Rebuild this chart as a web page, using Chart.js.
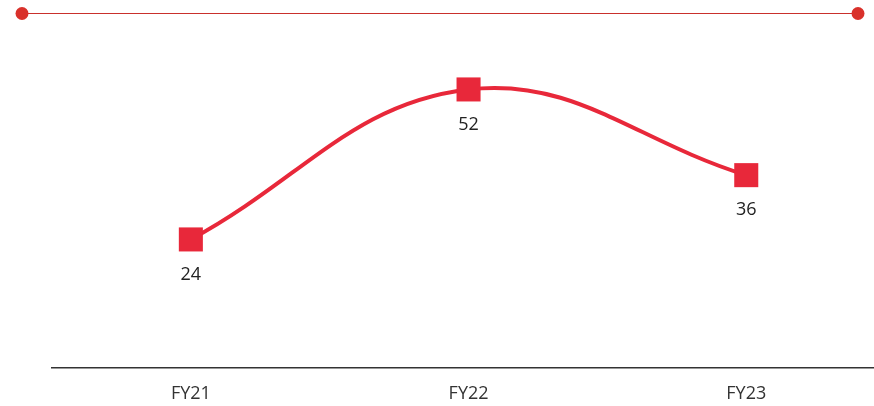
<!DOCTYPE html>
<html>
<head>
<meta charset="utf-8">
<script src="https://cdn.jsdelivr.net/npm/chart.js@4"></script>
<style>
  html, body { margin: 0; padding: 0; background: #fff; }
  #wrap { width: 874px; height: 406px; }
</style>
</head>
<body>
<div id="wrap"><canvas id="chart"></canvas></div>
<script>
const categories = ['FY21', 'FY22', 'FY23'];
const values = [24, 52, 36];

const red = '#e8283a';

// thin rule with round ends across the top
const topRule = {
    id: 'topRule',
    afterDraw(chart) {
        const ctx = chart.ctx;
        const y = chart.chartArea.top + 0.5;
        ctx.save();
        ctx.strokeStyle = '#c9302c';
        ctx.lineWidth = 1;
        ctx.beginPath();
        ctx.moveTo(22, y);
        ctx.lineTo(858, y);
        ctx.stroke();
        ctx.fillStyle = '#d9312b';
        [22, 858].forEach(x => {
            ctx.beginPath();
            ctx.arc(x, y, 6.5, 0, Math.PI * 2);
            ctx.fill();
        });
        ctx.restore();
    }
};

// value labels under each point
const valueLabels = {
    id: 'valueLabels',
    afterDatasetsDraw(chart) {
        const ctx = chart.ctx;
        const meta = chart.getDatasetMeta(0);
        ctx.save();
        ctx.font = '18px "Open Sans", sans-serif';
        ctx.fillStyle = '#222';
        ctx.textAlign = 'center';
        ctx.textBaseline = 'middle';
        meta.data.forEach((pt, i) => {
            ctx.fillText(String(values[i]), pt.x, pt.y + 35);
        });
        ctx.restore();
    }
};

new Chart(document.getElementById('chart'), {
    type: 'line',
    data: {
        datasets: [{
            data: values.map((v, i) => ({ x: i, y: v })),
            borderColor: red,
            borderWidth: 4,
            tension: 0.4,
            pointStyle: 'rect',
            pointRadius: 17,
            pointHoverRadius: 17,
            pointBackgroundColor: red,
            pointBorderWidth: 0
        }]
    },
    options: {
        responsive: true,
        maintainAspectRatio: false,
        animation: false,
        layout: { autoPadding: false, padding: { top: 13, left: 52, right: 0, bottom: 0 } },
        plugins: {
            legend: { display: false },
            tooltip: { enabled: false }
        },
        scales: {
            x: {
                type: 'linear',
                min: -0.5,
                max: 2.46,
                afterBuildTicks: axis => {
                    axis.ticks = categories.map((c, i) => ({ value: i }));
                },
                afterFit: axis => { axis.height = 38; },
                ticks: {
                    callback: v => categories[v],
                    color: '#333',
                    font: { family: 'Open Sans', size: 18 },
                    padding: 15,
                    maxRotation: 0
                },
                grid: { display: false, drawTicks: false },
                border: { display: true, color: '#333', width: 1.5 }
            },
            y: {
                display: false,
                min: 0,
                max: 66.27
            }
        }
    },
    plugins: [topRule, valueLabels]
});
</script>
</body>
</html>
